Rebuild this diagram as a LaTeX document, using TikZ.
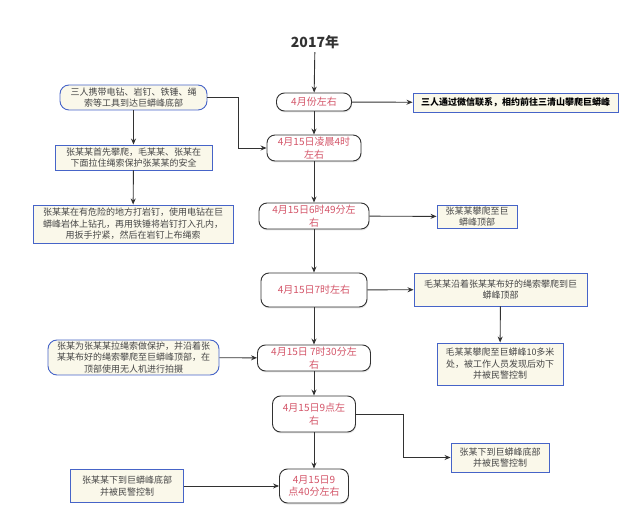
\documentclass[tikz,border=0pt]{standalone}
\usepackage{fontspec}
\setmainfont{Noto Sans CJK SC}
\usetikzlibrary{arrows.meta,shadows}
\definecolor{timered}{RGB}{212,85,105}
\definecolor{notefill}{RGB}{250,248,234}
\definecolor{noteline}{RGB}{70,100,200}
\definecolor{notetext}{RGB}{70,70,70}
\definecolor{wire}{RGB}{50,50,50}
\begin{document}
\begin{tikzpicture}[x=1pt,y=-1pt,
  timebox/.style={draw=wire,line width=0.9pt,fill=white,rounded corners=8pt,
    text=timered,align=center,inner sep=0pt,
    font=\fontsize{10}{12.5}\selectfont,
    drop shadow={opacity=0.2,shadow xshift=0.5pt,shadow yshift=-1.5pt}},
  notebox/.style={draw=noteline,line width=0.9pt,fill=notefill,
    text=notetext,align=center,inner sep=0pt,
    font=\fontsize{9}{11.5}\selectfont},
  noteround/.style={notebox,rounded corners=9pt},
  flow/.style={draw=wire,line width=0.9pt,-{Stealth[length=6pt,width=5pt]}}]
  \useasboundingbox (0,0) rectangle (640,526);
  % time line
  \node[font=\fontsize{14}{16}\selectfont\bfseries,text=wire] (title) at (315,42) {2017年};
  \node[timebox,minimum width=75,minimum height=18] (t1) at (314,102) {4月份左右};
  \node[timebox,minimum width=94,minimum height=26] (t2) at (314,148) {4月15日凌晨4时\\左右};
  \node[timebox,minimum width=110,minimum height=26] (t3) at (314,216) {4月15日6时49分左\\右};
  \node[timebox,minimum width=106,minimum height=34] (t4) at (314,290) {4月15日7时左右};
  \node[timebox,minimum width=113,minimum height=26] (t5) at (314,358) {4月15日 7时30分左\\右};
  \node[timebox,minimum width=83,minimum height=36] (t6) at (314,414) {4月15日9点左\\右};
  \node[timebox,minimum width=69,minimum height=34] (t7) at (314,486) {4月15日9\\点40分左右};
  % right side
  \node[notebox,text=black,font=\fontsize{9}{11.5}\selectfont\bfseries,
    minimum width=205,minimum height=19] (r1) at (515.5,102.5) {三人通过微信联系，相约前往三清山攀爬巨蟒峰};
  \node[notebox,minimum width=80,minimum height=23] (r2) at (477,216.5) {张某某攀爬至巨\\蟒峰顶部};
  \node[notebox,minimum width=173,minimum height=33] (r3) at (500.5,289.5) {毛某某沿着张某某布好的绳索攀爬到巨\\蟒峰顶部};
  \node[notebox,minimum width=126,minimum height=42] (r4) at (500,364) {毛某某攀爬至巨蟒峰10多米\\处，被工作人员发现后劝下\\并被民警控制};
  \node[notebox,minimum width=98,minimum height=29] (r5) at (500,457.5) {张某下到巨蟒峰底部\\并被民警控制};
  % left side
  \node[noteround,minimum width=147,minimum height=25] (l1) at (133.5,97.5) {三人携带电钻、岩钉、铁锤、绳\\索等工具到达巨蟒峰底部};
  \node[notebox,minimum width=157,minimum height=25] (l2) at (133.5,157.5) {张某某首先攀爬，毛某某、张某在\\下面拉住绳索保护张某某的安全};
  \node[notebox,minimum width=200,minimum height=38] (l3) at (133,224) {张某某在有危险的地方打岩钉，使用电钻在巨\\蟒峰岩体上钻孔，再用铁锤将岩钉打入孔内，\\用扳手拧紧，然后在岩钉上布绳索};
  \node[noteround,minimum width=171,minimum height=35] (l4) at (133.5,357.5) {张某为张某某拉绳索做保护，并沿着张\\某某布好的绳索攀爬至巨蟒峰顶部，在\\顶部使用无人机进行拍摄};
  \node[notebox,minimum width=113,minimum height=33] (l5) at (127,486) {张某某下到巨蟒峰底部\\并被民警控制};
  % connectors
  \foreach \a/\b in {title/t1,t1/t2,t2/t3,t3/t4,t4/t5,t5/t6,t6/t7,l1/l2,l2/l3,r3/r4}
    \draw[flow] (\a) -- (\b);
  \foreach \a/\b in {t1/r1,t3/r2,t4/r3,l4/t5,l5/t7}
    \draw[flow] (\a) -- (\b);
  \draw[flow] (l1.east) -- ++(31,0) |- (t2.west);
  \draw[flow] (t6.east) -- ++(47,0) |- (r5.west);
\end{tikzpicture}
\end{document}
